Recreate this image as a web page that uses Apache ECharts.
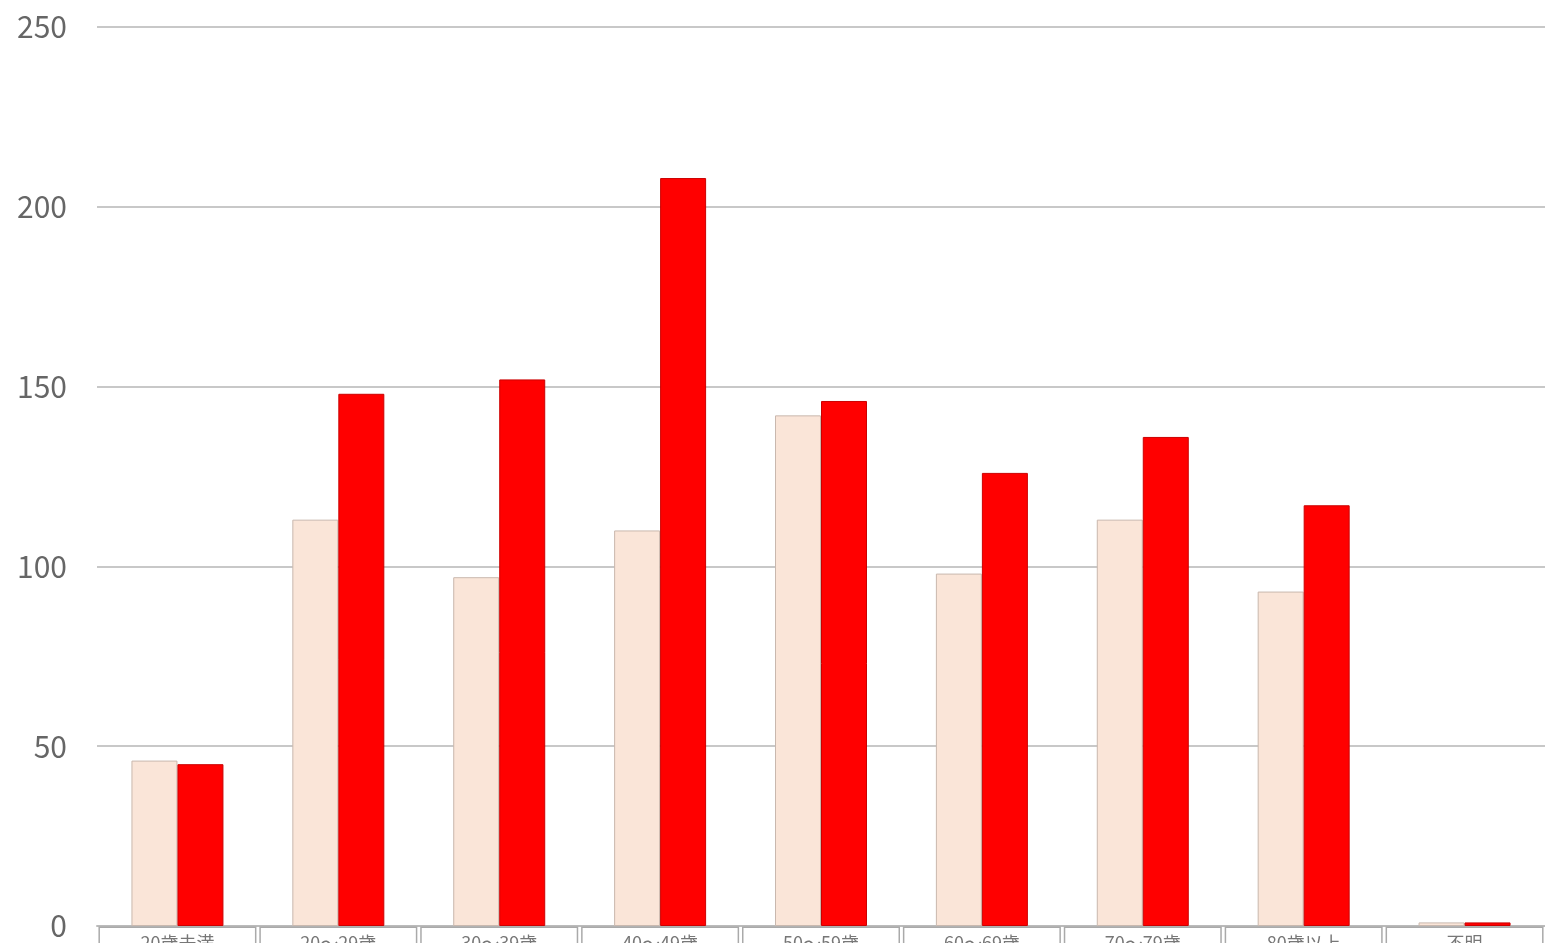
<!DOCTYPE html>
<html><head><meta charset="utf-8">
<script src="https://cdn.jsdelivr.net/npm/echarts@6/dist/echarts.min.js"></script>
<style>html,body{margin:0;padding:0;background:#fff}#c{width:1545px;height:943px}</style>
</head><body><div id="c"></div>
<script>
var categories = ['20歳未満', '20～29歳', '30～39歳', '40～49歳', '50～59歳', '60～69歳', '70～79歳', '80歳以上', '不明'];
var seriesA = [46, 113, 97, 110, 142, 98, 113, 93, 1];
var seriesB = [45, 148, 152, 208, 146, 126, 136, 117, 1];

var myChart = echarts.init(document.getElementById('c'));
myChart.setOption({
    animation: false,
    grid: { left: 97, right: 0, top: 27, bottom: 17, outerBoundsMode: 'none', containLabel: false },
    xAxis: {
        type: 'category',
        data: categories,
        axisLine: { lineStyle: { color: '#bbb', width: 2 } },
        axisTick: { show: false },
        axisLabel: {
            margin: 2,
            color: '#777',
            fontSize: 18,
            fontFamily: 'Noto Sans CJK JP',
            backgroundColor: '#fff',
            borderColor: '#aaa',
            borderWidth: 1.5,
            width: 155,
            height: 30,
            lineHeight: 30,
            padding: [0, 0, 0, 0],
            align: 'center',
            verticalAlign: 'top'
        }
    },
    yAxis: {
        type: 'value',
        min: 0, max: 250, interval: 50,
        axisLine: { show: false },
        axisTick: { show: false },
        splitLine: { lineStyle: { color: '#c8c8c8', width: 2 } },
        axisLabel: { color: '#666', fontSize: 30, margin: 30, fontFamily: 'Noto Sans CJK JP' }
    },
    series: [
        { type: 'bar', data: seriesA, barWidth: 46, barGap: '0%',
          itemStyle: { color: '#fae5d8', borderColor: '#c9b8ae', borderWidth: 1 } },
        { type: 'bar', data: seriesB, barWidth: 46,
          itemStyle: { color: '#ff0000', borderColor: '#c00', borderWidth: 1 } }
    ]
});
</script>
</body></html>
